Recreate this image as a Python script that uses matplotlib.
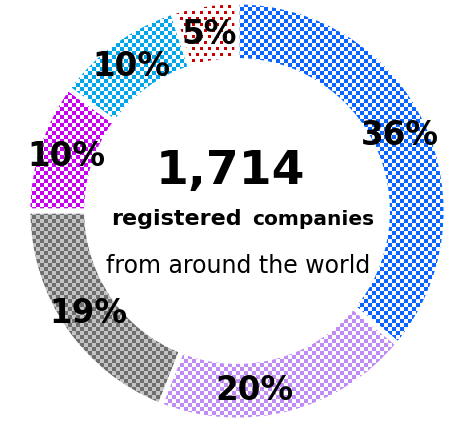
import numpy as np
import matplotlib
matplotlib.use('Agg')
import matplotlib.pyplot as plt
from matplotlib.colors import to_rgba

# share of registered companies by region (clockwise from top)
shares = [36, 20, 19, 10, 10, 5]
total_companies = '1,714'

# texture colours per slice: (ink, background, pattern)
inks = ['#0a64ff', '#c08cf4', '#6e6e6e', '#c800f0', '#00a6ea', '#c80000']
grounds = ['white', 'white', '#c4c4c4', 'white', 'white', 'white']
patterns = ['check', 'check', 'check', 'check', 'check', 'dots']

W, H = 449, 427
cx, cy, R = 237, 212, 209  # centre and radius in pixels

fig = plt.figure(figsize=(W / 100, H / 100), dpi=100)
ax = fig.add_axes([0, 0, 1, 1])
xmin, xmax = -cx / R, (W - cx) / R
ymin, ymax = -(H - cy) / R, cy / R

wedges, texts, autotexts = ax.pie(
    shares, startangle=90, counterclock=False, radius=1,
    autopct=lambda p: f'{p:.0f}%', pctdistance=0.86,
    wedgeprops=dict(width=0.28, facecolor='none', edgecolor='white', linewidth=3.5),
    textprops=dict(fontsize=23.5, fontweight='bold', color='black'))

# the 20% label sits a bit right of the slice middle
a = np.deg2rad(-84.5)
autotexts[1].set_position((0.86 * np.cos(a), 0.86 * np.sin(a)))

# pixel-sized textures clipped to each wedge
yy, xx = np.mgrid[0:H, 0:W]
check = ((xx // 4 + yy // 4) % 2 == 0)
dots = ((yy % 6) < 3) & (((xx + 4 * ((yy // 6) % 2)) % 8) < 3)
for w, ink, bg, pat in zip(wedges, inks, grounds, patterns):
    mask = check if pat == 'check' else dots
    img = np.empty((H, W, 4))
    img[mask] = to_rgba(ink)
    img[~mask] = to_rgba(bg)
    im = ax.imshow(img, extent=(xmin, xmax, ymin, ymax), origin='upper',
                   interpolation='nearest', zorder=0.5)
    im.set_clip_path(w)
    w.set_zorder(1)

for t in autotexts:
    t.set_zorder(3)

# centre text
ax.text(-0.03, 0.134, total_companies, ha='center', va='baseline',
        fontsize=34, fontweight='bold')
ax.text(0.024, -0.062, 'registered', ha='right', va='baseline',
        fontsize=16, fontweight='bold')
ax.text(0.072, -0.062, 'companies', ha='left', va='baseline',
        fontsize=14.5, fontweight='bold')
ax.text(0.007, -0.292, 'from around the world', ha='center', va='baseline',
        fontsize=17)

ax.set_xlim(xmin, xmax)
ax.set_ylim(ymin, ymax)
ax.set_aspect('auto')
ax.axis('off')

fig.savefig('out.png', dpi=100)
plt.close(fig)
